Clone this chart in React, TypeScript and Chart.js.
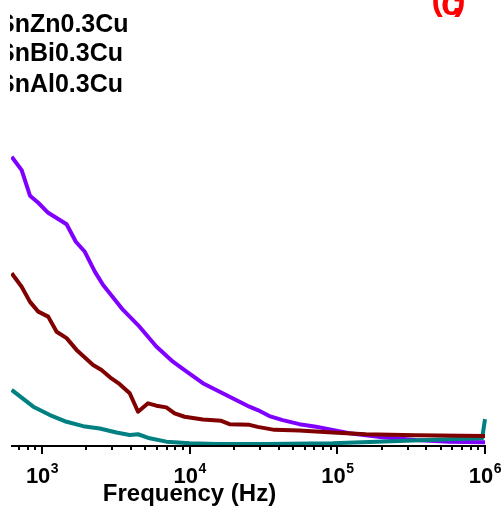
import React, { useEffect, useRef } from "react";
import { Chart, registerables } from "chart.js";

Chart.register(...registerables);

// Frequency axis (Hz), log scale
const X_MIN = 616.6;
const X_MAX = 1000000;
const Y_MIN = 0;
const Y_MAX = 100;
const tickExponents = [3, 4, 5, 6];
const xTitle = "Frequency (Hz)";
const panelLetter = "c";

const seriesLabels = ["SnZn0.3Cu", "SnBi0.3Cu", "SnAl0.3Cu"];
const seriesColors = ["#8000ff", "#800000", "#008080"];

// SnZn0.3Cu (purple)
const freqZn = [623, 728, 829, 943, 1101, 1467, 1695, 1950, 2279, 2593, 3540, 4470, 5945, 7703, 9240, 12280, 17660, 25400, 28900, 34670, 42660, 55300, 71800, 92900, 120500, 202300, 339600, 570200, 1000000];
const valZn = [86.1, 82.1, 74.5, 72.4, 69.4, 66.0, 60.8, 57.8, 51.9, 47.9, 40.5, 36.0, 29.6, 25.1, 22.6, 18.7, 15.2, 11.7, 10.7, 8.9, 7.7, 6.5, 5.7, 4.8, 3.8, 2.6, 1.8, 1.3, 1.1];

// SnBi0.3Cu (dark red)
const freqBi = [623, 728, 829, 943, 1101, 1256, 1467, 1714, 2218, 2529, 2953, 3360, 3927, 4470, 5224, 5945, 6950, 7907, 9240, 12280, 16360, 18620, 25400, 28900, 37500, 55300, 92900, 156000, 339600, 1000000];
const valBi = [51.4, 47.4, 42.9, 40.0, 38.5, 34.0, 32.1, 28.6, 24.1, 22.6, 20.1, 18.4, 15.7, 10.2, 12.7, 12.0, 11.5, 9.7, 8.7, 7.9, 7.5, 6.5, 6.3, 5.7, 4.8, 4.6, 4.0, 3.5, 3.2, 3.0];

// SnAl0.3Cu (teal)
const freqAl = [623, 873, 1131, 1467, 1900, 2462, 3193, 3927, 4470, 5360, 6950, 10000, 15140, 32960, 92900, 261800, 570200, 957000, 1000000];
const valAl = [16.7, 11.7, 9.2, 7.2, 5.9, 5.2, 4.0, 3.3, 3.5, 2.3, 1.3, 0.8, 0.6, 0.6, 0.8, 1.5, 2.0, 2.3, 8.0];

const FONT = "'Liberation Sans', Arial, sans-serif";

const toPoints = (xs: number[], ys: number[]) => xs.map((x, i) => ({ x, y: ys[i] }));

const overlayPlugin = {
  id: "overlay",
  afterDatasetsDraw(chart: any) {
    const ctx: CanvasRenderingContext2D = chart.ctx;
    const xs = chart.scales.x;
    const area = chart.chartArea;
    ctx.save();
    // axis line
    ctx.strokeStyle = "#000";
    ctx.lineWidth = 2;
    ctx.beginPath();
    ctx.moveTo(area.left, area.bottom);
    ctx.lineTo(area.right + 1, area.bottom);
    ctx.stroke();
    // ticks
    for (let k = 2; k <= 6; k++) {
      for (let m = 1; m <= 9; m++) {
        const v = m * Math.pow(10, k);
        if (v < X_MIN || v > X_MAX * 1.0001) continue;
        const px = Math.round(xs.getPixelForValue(v));
        const len = m === 1 ? 8 : 4;
        ctx.beginPath();
        ctx.moveTo(px, area.bottom);
        ctx.lineTo(px, area.bottom + len);
        ctx.stroke();
      }
    }
    // tick labels
    ctx.fillStyle = "#000";
    ctx.textBaseline = "alphabetic";
    ctx.textAlign = "left";
    for (const e of tickExponents) {
      const px = xs.getPixelForValue(Math.pow(10, e));
      ctx.font = `bold 22px ${FONT}`;
      const wBase = ctx.measureText("10").width;
      ctx.font = `bold 14px ${FONT}`;
      const wExp = ctx.measureText(String(e)).width;
      const start = px - (wBase + wExp) / 2;
      ctx.font = `bold 22px ${FONT}`;
      ctx.fillText("10", start, area.bottom + 37);
      ctx.font = `bold 14px ${FONT}`;
      ctx.fillText(String(e), start + wBase + 0.5, area.bottom + 27);
    }
    // axis title
    ctx.font = `bold 24px ${FONT}`;
    ctx.textAlign = "center";
    ctx.fillText(xTitle, 189.5, area.bottom + 55);
    ctx.restore();
  },
  afterDraw(chart: any) {
    const ctx: CanvasRenderingContext2D = chart.ctx;
    ctx.save();
    ctx.beginPath();
    ctx.rect(10, 0, chart.width, chart.height);
    ctx.clip();
    ctx.fillStyle = "#000";
    ctx.font = `bold 25px ${FONT}`;
    ctx.textAlign = "left";
    ctx.textBaseline = "alphabetic";
    const baselines = [31.5, 61, 91.5];
    seriesLabels.forEach((t, i) => ctx.fillText(t, -2, baselines[i]));
    ctx.restore();
    // panel label "(c)", cut by the top edge
    ctx.save();
    ctx.fillStyle = "#ff0000";
    ctx.textBaseline = "alphabetic";
    ctx.font = `bold 36px ${FONT}`;
    ctx.textAlign = "center";
    ctx.fillText(panelLetter, 451, 15);
    ctx.font = `bold 34px ${FONT}`;
    ctx.textAlign = "left";
    ctx.fillText("(", 431.5, 9.5);
    ctx.textAlign = "right";
    ctx.fillText(")", 465.5, 9.5);
    ctx.restore();
  },
};

export default function App() {
  const ref = useRef<HTMLCanvasElement | null>(null);
  useEffect(() => {
    if (!ref.current) return;
    const mk = (i: number, xs: number[], ys: number[], order: number) => ({
      label: seriesLabels[i],
      data: toPoints(xs, ys),
      borderColor: seriesColors[i],
      backgroundColor: seriesColors[i],
      borderWidth: 4,
      pointRadius: 0,
      tension: 0,
      fill: false,
      order,
      borderCapStyle: "butt" as const,
      borderJoinStyle: "round" as const,
      clip: { left: 0, top: 6, right: 6, bottom: 6 },
    });
    const chart = new Chart(ref.current, {
      type: "line",
      data: {
        datasets: [
          mk(0, freqZn, valZn, 2),
          mk(2, freqAl, valAl, 1),
          mk(1, freqBi, valBi, 0),
        ],
      },
      options: {
        responsive: false,
        animation: false,
        devicePixelRatio: 1,
        layout: { padding: { left: 11, right: 17, top: 110, bottom: 66 } },
        plugins: { legend: { display: false }, tooltip: { enabled: false }, title: { display: false } },
        scales: {
          x: { type: "logarithmic", min: X_MIN, max: X_MAX, display: false },
          y: { type: "linear", min: Y_MIN, max: Y_MAX, display: false },
        },
      },
      plugins: [overlayPlugin],
    });
    return () => chart.destroy();
  }, []);
  return (
    <div style={{ position: "fixed", left: 0, top: 0, width: 502, height: 512, background: "#fff" }}>
      <canvas ref={ref} width={502} height={512} style={{ display: "block" }} />
    </div>
  );
}
